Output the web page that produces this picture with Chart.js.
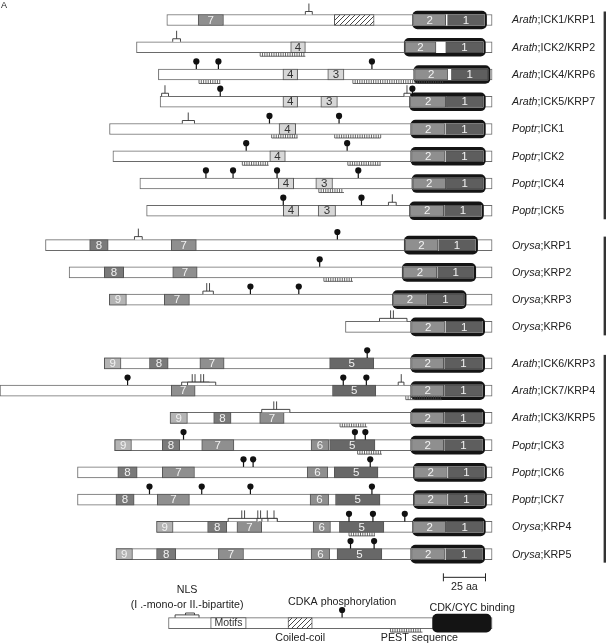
<!DOCTYPE html>
<html>
<head>
<meta charset="utf-8">
<script src="https://cdn.jsdelivr.net/npm/chart.js@4.4.0/dist/chart.umd.min.js"></script>
<style>
  html, body { margin: 0; padding: 0; background: #fff; }
  #caixa { width: 606px; height: 643px; position: relative; }
</style>
</head>
<body>
<div id="caixa"><canvas id="grafico"></canvas></div>
<script>
// Dados (posicoes em aa, alinhadas pelo C-terminal = 0)
const especies = ['Arath','Arath','Arath','Arath','Poptr','Poptr','Poptr','Poptr','Orysa','Orysa','Orysa','Orysa','Arath','Arath','Arath','Poptr','Poptr','Poptr','Orysa','Orysa'];
const nomes = ['ICK1/KRP1','ICK2/KRP2','ICK4/KRP6','ICK5/KRP7','ICK1','ICK2','ICK4','ICK5','KRP1','KRP2','KRP3','KRP6','ICK6/KRP3','ICK7/KRP4','ICK3/KRP5','ICK3','ICK6','ICK7','KRP4','KRP5'];
const grupos = [8, 4, 8];
const comprimentos = [193, 211, 198, 197, 227, 225, 209, 205, 265, 251, 227, 87, 230, 292, 191, 224, 246, 246, 199, 223];

const motivo2 = [[-46.6,-27.5],[-51.6,-33.3],[-45.9,-26.4],[-48.4,-27.5],[-47.7,-28.2],[-47.7,-28.2],[-47,-27.5],[-48.4,-28.7],[-51.6,-32.1],[-52.8,-32.8],[-58.5,-39],[-47.7,-28.2],[-47.7,-28.7],[-47.7,-28.7],[-47.7,-28.7],[-47.7,-28.7],[-46.1,-26.6],[-46.1,-26.6],[-46.6,-27.5],[-47.7,-28.2]];
const motivo1 = [[-26.4,-4.6],[-27.5,-5.3],[-24.1,-2.5],[-27.1,-5.3],[-27.5,-5.3],[-27.5,-5.3],[-27.1,-5.3],[-28.2,-6.4],[-31.7,-9.9],[-32.3,-11],[-38.5,-16.7],[-27.5,-5.7],[-28.2,-5.7],[-28.2,-5.7],[-28.2,-5.7],[-28.2,-5.7],[-25.9,-4.6],[-25.9,-4.6],[-27.1,-5.3],[-27.5,-5.7]];

const motivos = [
  [['7',-174.4,-159.4]],
  [['4',-119.5,-110.8]],
  [['4',-124.1,-115.4],['3',-97.5,-87.9]],
  [['4',-124.1,-115.4],['3',-101.6,-91.8]],
  [['4',-126.4,-116.5]],
  [['4',-131.9,-122.7]],
  [['4',-126.9,-117.7],['3',-104.6,-94.7]],
  [['4',-123.9,-114.7],['3',-103.2,-92.9]],
  [['8',-238.8,-227.8],['7',-190.4,-175.5]],
  [['8',-230.1,-218.6],['7',-189.5,-175]],
  [['9',-227.1,-217],['7',-194.5,-179.6]],
  [],
  [['9',-230.1,-220.2],['8',-203.3,-192.2],['7',-173.4,-159],['5',-96.4,-70.2]],
  [['7',-190.4,-176.2],['5',-94.7,-69]],
  [['9',-191.1,-180.8],['8',-165.2,-154.9],['7',-137.9,-123.4]],
  [['9',-223.9,-214],['8',-195.7,-185.4],['7',-172.3,-153.2],['6',-107.4,-97],['5',-96.4,-69.5]],
  [['8',-222.1,-210.6],['7',-195.7,-176.6],['6',-109.7,-97.5],['5',-93.6,-67.7]],
  [['8',-223.2,-212.4],['7',-198.7,-179.6],['6',-108,-97],['5',-92.9,-66.5]],
  [['9',-199.1,-189.3],['8',-168.8,-157.4],['7',-151.4,-136.7],['6',-106.2,-95.9],['5',-90.6,-64.2]],
  [['9',-223.2,-213.4],['8',-199.1,-187.7],['7',-162.4,-147.5],['6',-107.4,-96.4],['5',-92,-65.4]]
];

// sitios de fosforilacao CDKA
const fosforilacao = [
  [], [], [-175.5,-162.4,-71.3], [-161.3,-47.3], [-132.1,-90.8], [-145.9,-86], [-169.8,-153.7,-127.6,-79.4], [-123.9,-77.5],
  [-91.8], [-102.3], [-143.4,-114.7], [],
  [-74.1], [-216.3,-88.3,-74.6], [], [-183.1,-81.4,-75.2], [-147.5,-141.8,-72.3], [-203.3,-172.3,-143.4,-71.3], [-84.9,-70.7,-51.8], [-84,-70]
];

// NLS: [inicio, fim, marca, tipo 1=mono 2=bipartido]
const nls = [
  [[-110.8,-106.7,-108.7,1]], [[-189.5,-184.9,-187.2,1]], [], [[-196.1,-192,-194.1,1],[-52.3,-48.4,-50.5,1]],
  [[-183.8,-176.6,-180.3,1]], [], [], [[-61.5,-56.9,-59.2,1]],
  [[-212.2,-207.6,-209.9,1]], [], [[-171.6,-165.4,-168.5,2]], [[-66.8,-50.5,-59.4,2]],
  [], [[-184.2,-167.8,-177.1,2],[-180.7,-164,-172,2],[-55.7,-52.3,-53.9,1]], [[-136.7,-120,-128.7,2]],
  [], [], [], [[-156.6,-138.3,-147.7,2],[-139.5,-133,-138.2,2],[-136.6,-127.5,-133.4,1],[-133,-127.5,-129.4,1]], []
];

// sequencias PEST
const pest = [
  [], [[-137.6,-110.8]], [[-173.9,-161.3],[-82.6,-28.2]], [], [[-130.8,-115.4],[-93.4,-66.1]], [[-148.2,-132.6],[-85.6,-66.1]], [[-102.8,-87.9]], [],
  [], [[-99.8,-82.6]], [], [],
  [], [[-51.2,-29.8]], [[-90.2,-74.1]], [[-79.8,-65.4]], [], [], [[-84.9,-69.5]], []
];

const coiledCoil = [[0, -93.6, -70]];

// legenda
const legComprimento = 192;
const legNls = [-188.1, -173.9];
const legNlsInterno = [-181.9, -176.6];
const legMotivos = [-167, -145.9];
const legCoil = [-121.1, -106.7];
const legFosfo = -89;
const legPest = [-60.3, -41.3];
const legCdk = [-35.3, -0.6];
const escalaInicio = -28.9;
const escalaTamanho = 25;

// Posicao das linhas
const linhaY = [];
const gapGrupo = [0.26, 0.34, 0];
let yAtual = 0;
grupos.forEach((n, g) => {
  for (let k = 0; k < n; k++) { linhaY.push(yAtual); yAtual++; }
  yAtual += gapGrupo[g];
});
const legendaY = 22.13;
const escalaY = 20.45;

const coresMotivo = { '1': '#5e5e5e', '2': '#8f8f8f', '3': '#d7d7d7', '4': '#d7d7d7', '5': '#686868', '6': '#8f8f8f', '7': '#8f8f8f', '8': '#7a7a7a', '9': '#b4b4b4', 'Motifs': '#ffffff' };
const textoEscuro = ['3', '4', 'Motifs'];

function criarHachura() {
  const c = document.createElement('canvas');
  c.width = 5; c.height = 5;
  const g = c.getContext('2d');
  g.fillStyle = '#fff'; g.fillRect(0, 0, 5, 5);
  g.strokeStyle = '#333'; g.lineWidth = 0.9;
  g.beginPath();
  g.moveTo(0, 5); g.lineTo(5, 0);
  g.moveTo(-1, 1); g.lineTo(1, -1);
  g.moveTo(4, 6); g.lineTo(6, 4);
  g.stroke();
  return g.createPattern(c, 'repeat');
}
const hachura = criarHachura();

// montar datasets
const contornos = linhaY.map((y, i) => ({ x: [-comprimentos[i], 0], y }));
contornos.push({ x: [-legComprimento, 0], y: legendaY });

const caixasMotivo = [];
motivos.forEach((lista, i) => lista.forEach(m => caixasMotivo.push({ x: [m[1], m[2]], y: linhaY[i], m: m[0] })));
caixasMotivo.push({ x: legMotivos, y: legendaY, m: 'Motifs' });

const caixasCoil = coiledCoil.map(c => ({ x: [c[1], c[2]], y: linhaY[c[0]] }));
caixasCoil.push({ x: legCoil, y: legendaY });

const caixasPretas = linhaY.map((y, i) => ({ x: [motivo2[i][0] - 0.5, motivo1[i][1] + 1.3], y }));
caixasPretas.push({ x: legCdk, y: legendaY });

const fundoBranco = linhaY.map((y, i) => ({ x: [motivo2[i][0], motivo1[i][1]], y }));

const caixasCdk = [];
linhaY.forEach((y, i) => {
  caixasCdk.push({ x: motivo2[i], y, m: '2' });
  caixasCdk.push({ x: motivo1[i], y, m: '1' });
});

const fonte = '"Liberation Sans", Arial, sans-serif';

const desenhos = {
  id: 'desenhos',
  afterDatasetsDraw(chart) {
    const ctx = chart.ctx;
    const sx = chart.scales.x, sy = chart.scales.y;
    const px = v => sx.getPixelForValue(v);
    const py = v => sy.getPixelForValue(v);
    const meia = 5.5;

    ctx.save();
    // numeros nos motivos
    ctx.textAlign = 'center';
    ctx.textBaseline = 'middle';
    [...caixasMotivo, ...caixasCdk].forEach(d => {
      const cx = (px(d.x[0]) + px(d.x[1])) / 2;
      ctx.fillStyle = textoEscuro.includes(d.m) ? '#333' : '#f2f2f2';
      ctx.font = (d.m === 'Motifs' ? '10.5px ' : '11.5px ') + fonte;
      ctx.fillText(d.m, cx, py(d.y) + 0.5);
    });

    // PEST
    function desenharPest(a, b, y) {
      const topo = py(y) + meia;
      const x0 = px(a), x1 = px(b);
      ctx.strokeStyle = '#444';
      ctx.lineWidth = 0.8;
      ctx.beginPath();
      ctx.moveTo(x0, topo + 3.5); ctx.lineTo(x1, topo + 3.5);
      for (let x = x0; x <= x1 + 0.1; x += 2.3) {
        ctx.moveTo(x, topo); ctx.lineTo(x, topo + 3.5);
      }
      ctx.stroke();
    }
    pest.forEach((lista, i) => lista.forEach(p => desenharPest(p[0], p[1], linhaY[i])));
    desenharPest(legPest[0], legPest[1], legendaY);

    // NLS
    function desenharNls(a, b, marca, tipo, y) {
      const base = py(y) - meia;
      const x0 = px(a), x1 = px(b);
      ctx.fillStyle = '#fff';
      ctx.fillRect(x0, base - 3, x1 - x0, 3);
      ctx.strokeStyle = '#333';
      ctx.lineWidth = 0.9;
      ctx.beginPath();
      ctx.moveTo(x0, base); ctx.lineTo(x0, base - 3); ctx.lineTo(x1, base - 3); ctx.lineTo(x1, base);
      const xm = px(marca);
      const marcas = tipo === 2 ? [xm - 1.4, xm + 1.4] : [xm];
      marcas.forEach(m => { ctx.moveTo(m, base - 3); ctx.lineTo(m, base - 11); });
      ctx.stroke();
    }
    nls.forEach((lista, i) => lista.forEach(n => desenharNls(n[0], n[1], n[2], n[3], linhaY[i])));
    // NLS da legenda
    {
      const base = py(legendaY) - meia;
      const x0 = px(legNls[0]), x1 = px(legNls[1]);
      const i0 = px(legNlsInterno[0]), i1 = px(legNlsInterno[1]);
      ctx.strokeStyle = '#333'; ctx.lineWidth = 0.9;
      ctx.beginPath();
      ctx.moveTo(x0, base); ctx.lineTo(x0, base - 2.7); ctx.lineTo(x1, base - 2.7); ctx.lineTo(x1, base);
      ctx.moveTo(i0, base - 2.7); ctx.lineTo(i0, base - 4.6); ctx.lineTo(i1, base - 4.6); ctx.lineTo(i1, base - 2.7);
      ctx.stroke();
    }

    // fosforilacao
    function desenharPirulito(x, y) {
      const base = py(y) - meia;
      const xx = px(x);
      ctx.strokeStyle = '#111'; ctx.lineWidth = 1.2;
      ctx.beginPath(); ctx.moveTo(xx, base); ctx.lineTo(xx, base - 6); ctx.stroke();
      ctx.fillStyle = '#111';
      ctx.beginPath(); ctx.arc(xx, base - 7.6, 3.1, 0, Math.PI * 2); ctx.fill();
    }
    fosforilacao.forEach((lista, i) => lista.forEach(f => desenharPirulito(f, linhaY[i])));
    desenharPirulito(legFosfo, legendaY);

    // nomes das proteinas
    ctx.textAlign = 'left';
    ctx.fillStyle = '#222';
    linhaY.forEach((y, i) => {
      const x = 512, yy = py(y) + 0.5;
      ctx.font = 'italic 10.7px ' + fonte;
      ctx.fillText(especies[i], x, yy);
      const w = ctx.measureText(especies[i]).width;
      ctx.font = '10.7px ' + fonte;
      ctx.fillText(';' + nomes[i], x + w, yy);
    });

    // linhas verticais dos grupos
    ctx.strokeStyle = '#333'; ctx.lineWidth = 2.4;
    let ini = 0;
    grupos.forEach(n => {
      const y0 = py(linhaY[ini]) - 8.5, y1 = py(linhaY[ini + n - 1]) + 8.5;
      ctx.beginPath(); ctx.moveTo(604.8, y0); ctx.lineTo(604.8, y1); ctx.stroke();
      ini += n;
    });

    // barra de escala
    const ey = py(escalaY);
    const e0 = px(escalaInicio), e1 = px(escalaInicio + escalaTamanho);
    ctx.strokeStyle = '#222'; ctx.lineWidth = 1;
    ctx.beginPath();
    ctx.moveTo(e0, ey); ctx.lineTo(e1, ey);
    ctx.moveTo(e0, ey - 4); ctx.lineTo(e0, ey + 4);
    ctx.moveTo(e1, ey - 4); ctx.lineTo(e1, ey + 4);
    ctx.stroke();
    ctx.textAlign = 'center';
    ctx.font = '10.7px ' + fonte;
    ctx.fillStyle = '#222';
    ctx.fillText(escalaTamanho + ' aa', (e0 + e1) / 2, ey + 10);

    // textos da legenda
    const ly = py(legendaY);
    ctx.fillText('NLS', px((legNls[0] + legNls[1]) / 2), ly - 33);
    ctx.fillText('(I .-mono-or II.-bipartite)', px((legNls[0] + legNls[1]) / 2), ly - 18.5);
    ctx.fillText('CDKA phosphorylation', px(legFosfo), ly - 21.5);
    ctx.fillText('CDK/CYC binding', px(legCdk[0] + 23.5), ly - 15);
    ctx.fillText('Coiled-coil', px((legCoil[0] + legCoil[1]) / 2), ly + 14.5);
    ctx.fillText('PEST sequence', px((legPest[0] + legPest[1]) / 2 + 7.7), ly + 14.5);

    // letra do painel
    ctx.textAlign = 'left';
    ctx.font = '9px ' + fonte;
    ctx.fillText('A', 1, 6);
    ctx.restore();
  }
};

const grafico = new Chart(document.querySelector('#grafico'), {
  type: 'bar',
  data: {
    datasets: [
      { data: contornos, backgroundColor: '#fff', borderColor: '#6a6a6a', borderWidth: 1, barThickness: 11, order: 6 },
      { data: caixasCoil, backgroundColor: hachura, borderColor: '#555', borderWidth: 1, barThickness: 11, order: 5 },
      { data: caixasMotivo, backgroundColor: ctx => coresMotivo[ctx.raw.m], borderColor: '#555', borderWidth: 1, barThickness: 11, order: 4 },
      { data: caixasPretas, backgroundColor: '#141414', borderWidth: 0, borderRadius: 5, barThickness: 18, order: 3 },
      { data: fundoBranco, backgroundColor: '#fff', borderWidth: 0, barThickness: 11, order: 2 },
      { data: caixasCdk, backgroundColor: ctx => coresMotivo[ctx.raw.m], borderColor: '#444', borderWidth: 0.8, barThickness: 11, order: 1 }
    ]
  },
  options: {
    indexAxis: 'y',
    responsive: true,
    maintainAspectRatio: false,
    animation: false,
    grouped: false,
    borderSkipped: false,
    layout: { padding: 0 },
    plugins: { legend: { display: false }, tooltip: { enabled: false } },
    scales: {
      x: { type: 'linear', min: -292.0, max: 67.6, offset: false, display: false },
      y: { type: 'linear', min: -0.734, max: 22.86, reverse: true, offset: false, display: false }
    }
  },
  plugins: [desenhos]
});
</script>
</body>
</html>
